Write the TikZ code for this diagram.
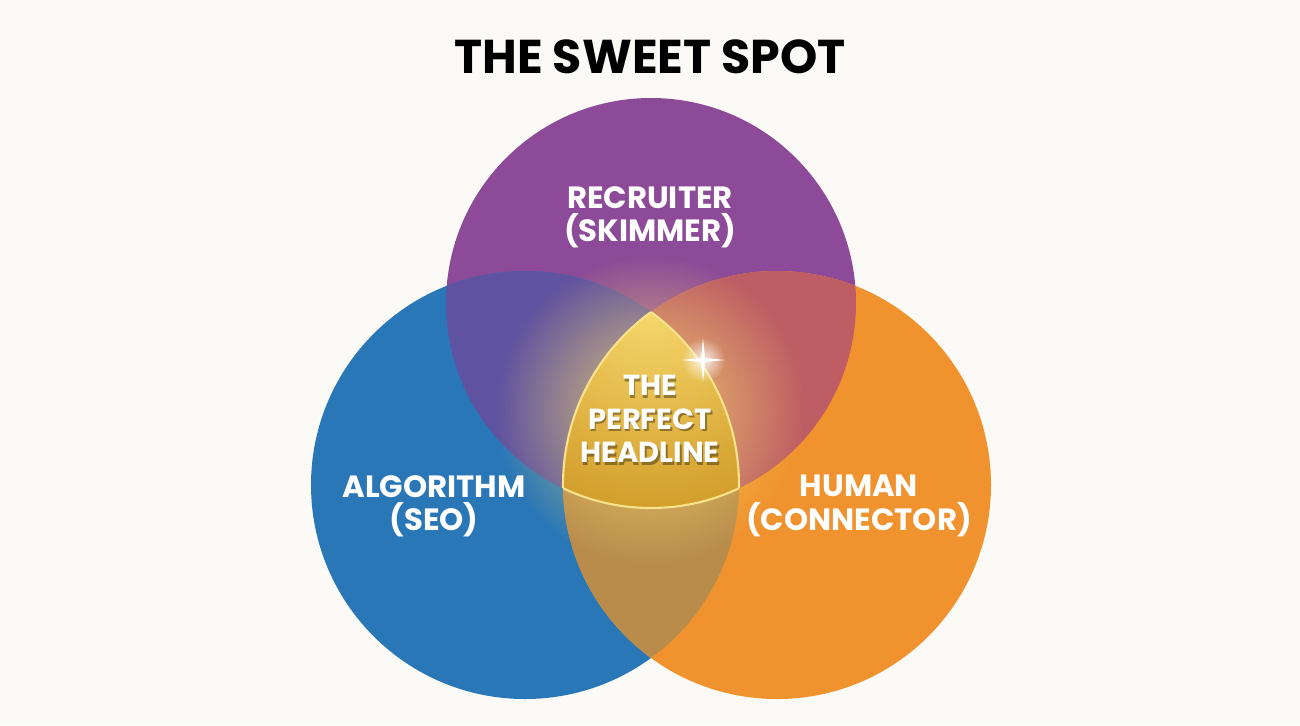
\documentclass[tikz,border=0pt]{standalone}
\usepackage{fontspec}
\setmainfont{Poppins}
\usetikzlibrary{fadings}
\definecolor{bgcol}{HTML}{FBFAF7}
\definecolor{purp}{HTML}{8C4A98}
\definecolor{bluec}{HTML}{2A77B7}
\definecolor{orng}{HTML}{F0922D}
\definecolor{purpblue}{HTML}{5F52A0}
\definecolor{purporng}{HTML}{BE5E64}
\definecolor{blueorng}{HTML}{B98C4C}
\definecolor{goldlight}{HTML}{F7D96E}
\definecolor{golddark}{HTML}{D39E2C}
\definecolor{goldedge}{HTML}{F9E28C}
\tikzfading[name=glowfade, inner color=transparent!15, outer color=transparent!100]

\begin{document}
\begin{tikzpicture}[x=0.02cm, y=-0.02cm,
	title/.style={font=\bfseries\fontsize{27}{30}\selectfont, text=black},
	label/.style={text=white, font=\bfseries\fontsize{17.5}{19}\selectfont, align=center},
	center/.style={text=white, font=\bfseries\fontsize{16.5}{19}\selectfont, align=center}]
	\fill[bgcol] (0,0) rectangle (1300,725);
	\coordinate (P) at (651,303);
	\coordinate (B) at (525,485);
	\coordinate (O) at (777,485);
	\def\rP{205}
	\def\rB{214}
	\def\rO{214}
	
	% the three sets
	\fill[purp] (P) circle[radius=\rP];
	\fill[bluec] (B) circle[radius=\rB];
	\fill[orng] (O) circle[radius=\rO];
	
	% pairwise overlaps
	\begin{scope}
		\clip (B) circle[radius=\rB];
		\fill[purpblue] (P) circle[radius=\rP];
	\end{scope}
	\begin{scope}
		\clip (O) circle[radius=\rO];
		\fill[purporng] (P) circle[radius=\rP];
	\end{scope}
	\begin{scope}
		\clip (B) circle[radius=\rB];
		\fill[blueorng] (O) circle[radius=\rO];
	\end{scope}
	
	% glow round the middle
	\begin{scope}
		\clip (P) circle[radius=\rP] (B) circle[radius=\rB] (O) circle[radius=\rO];
		\fill[goldlight, path fading=glowfade] (650,410) circle[radius=155];
	\end{scope}
	
	% the sweet spot
	\begin{scope}
		\clip (B) circle[radius=\rB];
		\clip (O) circle[radius=\rO];
		\shade[inner color=goldlight, outer color=golddark] (P) circle[radius=\rP];
	\end{scope}
	\begin{scope}
		\clip (B) circle[radius=\rB];
		\clip (O) circle[radius=\rO];
		\draw[goldedge, line width=1.2pt] (P) circle[radius=\rP];
	\end{scope}
	\begin{scope}
		\clip (P) circle[radius=\rP];
		\clip (B) circle[radius=\rB];
		\draw[goldedge, line width=1.2pt] (O) circle[radius=\rO];
	\end{scope}
	\begin{scope}
		\clip (P) circle[radius=\rP];
		\clip (O) circle[radius=\rO];
		\draw[goldedge, line width=1.2pt] (B) circle[radius=\rB];
	\end{scope}
	
	% sparkle
	\fill[white, path fading=glowfade] (703,360) circle[radius=22];
	\fill[white] (703,338) -- (705,358) -- (725,360) -- (705,362) -- (703,382)
		-- (701,362) -- (681,360) -- (701,358) -- cycle;
	
	% texts
	\node[title] (head) at (650,57) {THE SWEET SPOT};
	\node[label] (recruiter) at (650,217) {RECRUITER\\(SKIMMER)};
	\node[label] (algorithm) at (434,506) {ALGORITHM\\(SEO)};
	\node[label] (human) at (859,506) {HUMAN\\(CONNECTOR)};
	\node[center, text=black, opacity=0.35] at (651.5,421.5) {THE\\PERFECT\\HEADLINE};
	\node[center] (headline) at (650,419) {THE\\PERFECT\\HEADLINE};
\end{tikzpicture}
\end{document}
